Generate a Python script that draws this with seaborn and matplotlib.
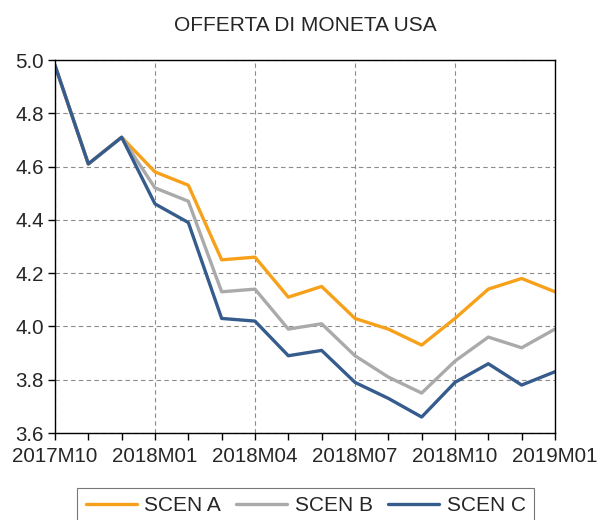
import matplotlib
matplotlib.use("Agg")
import matplotlib.pyplot as plt
import seaborn as sns
import pandas as pd
import numpy as np

# monthly data 2017M10 .. 2019M01
months = ['2017M10', '2017M11', '2017M12', '2018M01', '2018M02', '2018M03',
          '2018M04', '2018M05', '2018M06', '2018M07', '2018M08', '2018M09',
          '2018M10', '2018M11', '2018M12', '2019M01']
scen_a = [4.98, 4.61, 4.71, 4.58, 4.53, 4.25, 4.26, 4.11, 4.15, 4.03, 3.99, 3.93,
          4.03, 4.14, 4.18, 4.13]
scen_b = [4.98, 4.61, 4.71, 4.52, 4.47, 4.13, 4.14, 3.99, 4.01, 3.89, 3.81, 3.75,
          3.87, 3.96, 3.92, 3.99]
scen_c = [4.98, 4.61, 4.71, 4.46, 4.39, 4.03, 4.02, 3.89, 3.91, 3.79, 3.73, 3.66,
          3.79, 3.86, 3.78, 3.83]
tick_labels = ['2017M10', '2018M01', '2018M04', '2018M07', '2018M10', '2019M01']
y_ticks = [3.6, 3.8, 4.0, 4.2, 4.4, 4.6, 4.8, 5.0]

names = ['SCEN A', 'SCEN B', 'SCEN C']
colors = {'SCEN A': '#F7A11A', 'SCEN B': '#AAAAAA', 'SCEN C': '#365C8D'}

idx = np.arange(len(months))
df = pd.concat([
    pd.DataFrame({'t': idx, 'value': vals, 'scen': name})
    for name, vals in zip(names, [scen_a, scen_b, scen_c])
])

sns.set_style('white')
plt.rcParams['font.family'] = ['Liberation Sans', 'DejaVu Sans']

fig = plt.figure(figsize=(6.09, 5.2), dpi=100)
ax = fig.add_axes([0.0903, 0.1673, 0.8210, 0.7173])

sns.lineplot(data=df, x='t', y='value', hue='scen', palette=colors,
             hue_order=names, linewidth=2.4, ax=ax, legend=False)

ax.set_xlim(0, len(months) - 1)
ax.set_ylim(3.6, 5.0)
major = [months.index(m) for m in tick_labels]
ax.set_xticks(major)
ax.set_xticklabels(tick_labels)
ax.set_xticks(idx, minor=True)
ax.set_yticks(y_ticks)
ax.set_yticklabels([f'{v:.1f}' for v in y_ticks])
ax.set_xlabel('')
ax.set_ylabel('')
ax.tick_params(which='both', direction='out', length=5, width=1, color='black',
               labelsize=14.8, bottom=True, left=True)
ax.tick_params(axis='x', pad=5)
ax.tick_params(axis='y', pad=3)
ax.grid(True, which='major', color='#8c8c8c', linestyle=(0, (4, 3)), linewidth=0.8)
for s in ax.spines.values():
    s.set_color('black')
    s.set_linewidth(1)

ax.set_title('OFFERTA DI MONETA USA', fontsize=15, pad=21)

handles = [plt.Line2D([], [], color=colors[n], linewidth=2.4) for n in names]
leg = fig.legend(handles, names, loc='upper center', bbox_to_anchor=(0.502, 0.062),
                 ncol=3, frameon=True, fancybox=False, fontsize=15,
                 handlelength=2.45, handletextpad=0.35, columnspacing=0.75,
                 borderpad=0.4, borderaxespad=0)
leg.get_frame().set_edgecolor('#555555')
leg.get_frame().set_linewidth(0.8)

fig.savefig('out.png', dpi=100)
